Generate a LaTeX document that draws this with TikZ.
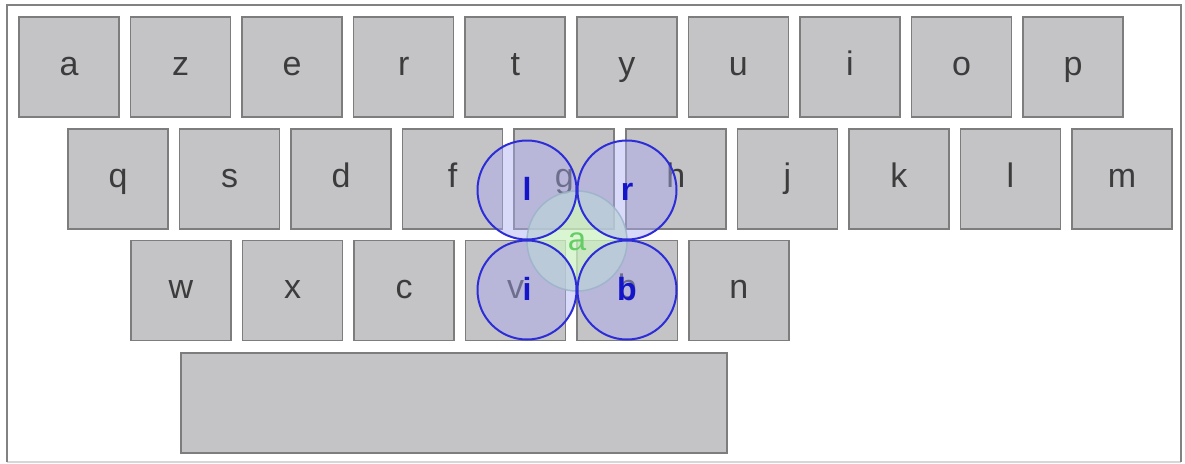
\documentclass[tikz,border=0pt]{standalone}
\usepackage{fontspec}
\setmainfont{Liberation Sans}
\definecolor{keyfill}{RGB}{196,195,198}
\definecolor{keyedge}{RGB}{125,125,125}
\definecolor{keytext}{RGB}{60,60,60}
\definecolor{framecol}{RGB}{130,130,130}
\definecolor{framebot}{RGB}{215,215,215}
\definecolor{bluefill}{RGB}{170,170,242}
\definecolor{blueedge}{RGB}{45,45,215}
\definecolor{bluetext}{RGB}{20,20,200}
\definecolor{greenfill}{RGB}{205,242,195}
\definecolor{greenedge}{RGB}{140,185,165}
\definecolor{greentext}{RGB}{100,205,100}
\begin{document}
\begin{tikzpicture}[x=1pt,y=-1pt,
  keybox/.style={draw=keyedge, fill=keyfill, line width=1.5pt, minimum width=100pt,
    minimum height=100pt, inner sep=0pt, text=keytext, font=\fontsize{34}{38}\selectfont,
    text height=16pt, text depth=0pt},
  bluecirc/.style={circle, draw=blueedge, line width=2pt, fill=bluefill, fill opacity=0.45,
    text opacity=1, minimum size=99pt, inner sep=0pt, text=bluetext,
    font=\fontsize{32}{36}\selectfont\bfseries, text height=20pt, text depth=0pt},
  greencirc/.style={circle, draw=greenedge, draw opacity=0.8, line width=1.5pt, fill=greenfill,
    fill opacity=0.75, text opacity=1, minimum size=100pt, inner sep=0pt, text=greentext,
    font=\fontsize{33}{36}\selectfont, text height=18pt, text depth=0pt}]
\useasboundingbox (0,0) rectangle (1185,463);
% frame
\draw[framebot, line width=1.5pt] (7,462) -- (1181,462);
\draw[framecol, line width=2pt] (7,462) -- (7,5) -- (1181,5) -- (1181,462);
% keys
\foreach \l [count=\i from 0] in {a,z,e,r,t,y,u,i,o,p}
  \node[keybox] (r1-\l) at ({69+\i*111.56},67) {\l};
\foreach \l [count=\i from 0] in {q,s,d,f,g,h,j,k,l,m}
  \node[keybox] (r2-\l) at ({118+\i*111.56},179) {\l};
\foreach \l [count=\i from 0] in {w,x,c,v,b,n}
  \node[keybox] (r3-\l) at ({181+\i*111.56},290.5) {\l};
\node[keybox, minimum width=546pt] (space) at (454,403) {};
% circles
\node[greencirc] (ca) at (577,241) {a};
\node[bluecirc] (cl) at (527,190) {l};
\node[bluecirc] (cr) at (627,190) {r};
\node[bluecirc] (ci) at (527,290) {i};
\node[bluecirc] (cb) at (627,290) {b};
\end{tikzpicture}
\end{document}
